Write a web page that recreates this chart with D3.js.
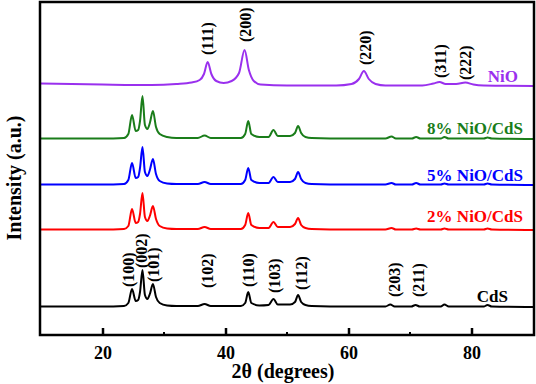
<!DOCTYPE html>
<html>
<head>
<meta charset="utf-8">
<script src="https://cdn.jsdelivr.net/npm/d3@7"></script>
<style>
  body { margin: 0; background: #fff; }
  svg { display: block; font-family: "Liberation Serif", "Times New Roman", serif; font-weight: bold; }
</style>
</head>
<body>
<div id="chart"></div>
<script>
// 2θ (deg), intensity (a.u.)
const cds = [[10,0.5],[20,0.5],[23.5,1],[24.2,4],[24.8,18],[25.4,6],[25.8,7],[26.1,15],[26.5,37],[26.9,12],[27.3,8],[27.7,13],[28.2,23],[28.7,10],[29.3,4],[30.5,1.5],[32,1],[35.5,1],[36.6,3],[37.6,1],[42.5,1],[43.2,4],[43.7,15],[44.2,4],[45.5,1.5],[47,2],[47.8,8],[48.5,2.5],[50.5,2.5],[51.3,5],[51.8,12],[52.3,5],[53,2],[54,1],[60,0.5],[66,0.5],[66.8,2.5],[67.5,0.5],[70.2,0.5],[70.9,2],[71.6,0.5],[75,0.5],[75.6,2.5],[76.3,0.5],[82,0.5],[82.6,2],[83.3,0.5],[90,0]]
const nio2 = [[10,0.5],[20,0.5],[23.5,1],[24.2,4],[24.8,21],[25.4,7],[25.8,8],[26.1,16],[26.5,37],[26.9,13],[27.3,9],[27.7,14],[28.2,24],[28.7,11],[29.3,4],[30.5,1.5],[32,1],[35.5,1],[36.6,3],[37.6,1],[42.5,1],[43.2,5],[43.7,17],[44.2,5],[45.5,2],[47,2],[47.8,8],[48.5,3],[50.5,3],[51.3,6],[51.8,12],[52.3,5],[53,2],[54,1],[60,0.5],[66,0.5],[67,2],[67.7,0.5],[70.3,0.5],[71,1.5],[71.7,0.5],[75,0.5],[75.6,1.5],[76.3,0.5],[82,0.5],[82.6,1.5],[83.3,0.5],[90,0]]
const nio5 = [[10,0.5],[20,0.5],[23.5,1],[24.2,5],[24.8,22],[25.4,7],[25.8,8],[26.1,17],[26.5,38],[26.9,13],[27.3,9],[27.7,15],[28.2,26],[28.7,11],[29.3,4],[30.5,1.5],[32,1],[35.5,1],[36.6,3],[37.6,1],[42.5,1],[43.2,5],[43.7,17],[44.2,5],[45.5,2],[47,2],[47.8,8],[48.5,3],[50.5,3],[51.3,6],[51.8,13],[52.3,6],[53,2],[54,1],[60,0.5],[66,0.5],[67,2],[67.7,0.5],[70.3,0.5],[71,2],[71.7,0.5],[75,0.5],[75.6,1.5],[76.3,0.5],[82,0.5],[82.6,1.5],[83.3,0.5],[90,0]]
const nio8 = [[10,0.5],[20,0.5],[23.5,1],[24.2,5],[24.8,24],[25.4,8],[25.8,9],[26.1,18],[26.5,43],[26.9,14],[27.3,10],[27.7,16],[28.2,28],[28.7,12],[29.3,5],[30.5,2],[32,1],[35.5,1],[36.6,3.5],[37.6,1],[42.5,1],[43.2,5],[43.7,18],[44.2,5],[45.5,2],[47,2],[47.8,9],[48.5,3],[50.5,3],[51.3,6],[51.8,13],[52.3,6],[53,2],[54,1],[60,0.5],[66,0.5],[67,2.5],[67.7,0.5],[70.3,0.5],[71,2],[71.7,0.5],[75,0.5],[75.6,2],[76.3,0.5],[82,0.5],[82.6,1.5],[83.3,0.5],[90,0]]
const nio = [[10,2.5],[20,1.5],[28,1],[32,2],[34.5,3.5],[35.8,6],[36.5,12],[37.1,24],[37.7,12],[38.5,5],[39.7,3],[41,5],[42.2,13],[43.1,36],[43.8,16],[44.6,5],[45.7,1.5],[50,0.5],[58,0.5],[60.5,2],[61.7,7],[62.5,15],[63.3,7],[64.4,2],[66,0.5],[72,0.5],[73.8,2.5],[74.8,4],[75.8,2],[77.5,2],[79,3.5],[80.3,1.5],[82,0.5],[90,0]]

const seriesNames = ["CdS", "2% NiO/CdS", "5% NiO/CdS", "8% NiO/CdS", "NiO"]
const seriesData = [cds, nio2, nio5, nio8, nio]
const offsets = [28, 105, 150, 196, 249]
const colors = ["#000000", "#ff0000", "#0000ff", "#1a7d1a", "#9a30ee"]

// hkl labels: text, 2θ, bottom of the label above its trace baseline (a.u.)
const cdsLabels = [["(100)", 24.15, 20], ["(002)", 26.4, 39], ["(101)", 28.2, 25], ["(102)", 37.0, 19], ["(110)", 43.7, 20], ["(103)", 47.9, 14], ["(112)", 52.3, 17], ["(203)", 67.4, 10], ["(211)", 71.3, 10]]
const nioLabels = [["(111)", 37.0, 31], ["(200)", 43.2, 44], ["(220)", 62.8, 21], ["(311)", 74.9, 8], ["(222)", 79.0, 6]]

const xTicks = [20, 40, 60, 80]
const xMinor = [30, 50, 70]

const W = 536, H = 384
const plotL = 41, plotR = 533, plotT = 2, plotB = 335

const x = d3.scaleLinear().domain([10, 90]).range([plotL, plotR])
const y = d3.scaleLinear().domain([0, 333]).range([plotB, plotT])

const svg = d3.select('#chart').append('svg')
    .attr('width', W)
    .attr('height', H)

const line = d3.line()
    .x(d => x(d[0]))
    .y(d => y(d[1]))
    .curve(d3.curveMonotoneX)

// traces
seriesData.forEach((s, i) => {
  svg.append('path')
      .datum(s.map(d => [d[0], d[1] + offsets[i]]))
      .attr('fill', 'none')
      .attr('stroke', colors[i])
      .attr('stroke-width', 2)
      .attr('stroke-linejoin', 'round')
      .attr('d', line)
})

// series names
const nameY = [296, 216, 175, 128, 76]
const nameX = [508, 523, 523, 523, 518]
svg.append('g')
    .attr('font-size', 17)
    .attr('text-anchor', 'end')
  .selectAll('text')
  .data(seriesNames)
  .join('text')
    .attr('x', (d, i) => nameX[i])
    .attr('y', (d, i) => nameY[i])
    .attr('dy', '0.35em')
    .attr('fill', (d, i) => colors[i])
    .text(d => d)

// hkl labels (rotated)
const hkl = cdsLabels.map(d => [d[0], d[1], d[2] + offsets[0]])
    .concat(nioLabels.map(d => [d[0], d[1], d[2] + offsets[4]]))
svg.append('g')
    .attr('font-size', 16)
    .attr('fill', '#000')
  .selectAll('text')
  .data(hkl)
  .join('text')
    .attr('transform', d => `translate(${x(d[1])},${y(d[2])}) rotate(-90)`)
    .attr('dy', '0.35em')
    .text(d => d[0])

// frame
svg.append('rect')
    .attr('x', plotL - 1)
    .attr('y', plotT)
    .attr('width', plotR - plotL + 2)
    .attr('height', plotB - plotT)
    .attr('fill', 'none')
    .attr('stroke', '#000')
    .attr('stroke-width', 2.5)

// x axis with inward ticks
const xAxis = svg.append('g')
    .attr('transform', `translate(0,${plotB})`)
    .call(d3.axisBottom(x).tickValues(xTicks).tickSizeInner(-7).tickSizeOuter(0).tickPadding(11).tickFormat(d3.format('d')))
xAxis.select('.domain').remove()
xAxis.selectAll('line').attr('stroke-width', 2.5)
xAxis.selectAll('text')
    .attr('font-family', '"Liberation Serif", serif')
    .attr('font-weight', 'bold')
    .attr('font-size', 18)
    .attr('fill', '#000')

svg.append('g')
  .selectAll('line')
  .data(xMinor)
  .join('line')
    .attr('x1', d => x(d)).attr('x2', d => x(d))
    .attr('y1', plotB).attr('y2', plotB - 3)
    .attr('stroke', '#000')
    .attr('stroke-width', 2)

// axis titles
svg.append('text')
    .attr('x', 283)
    .attr('y', 378)
    .attr('text-anchor', 'middle')
    .attr('font-size', 20)
    .text('2θ (degrees)')

svg.append('text')
    .attr('transform', 'translate(14,178) rotate(-90)')
    .attr('dy', '0.35em')
    .attr('text-anchor', 'middle')
    .attr('font-size', 20)
    .text('Intensity (a.u.)')
</script>
</body>
</html>
